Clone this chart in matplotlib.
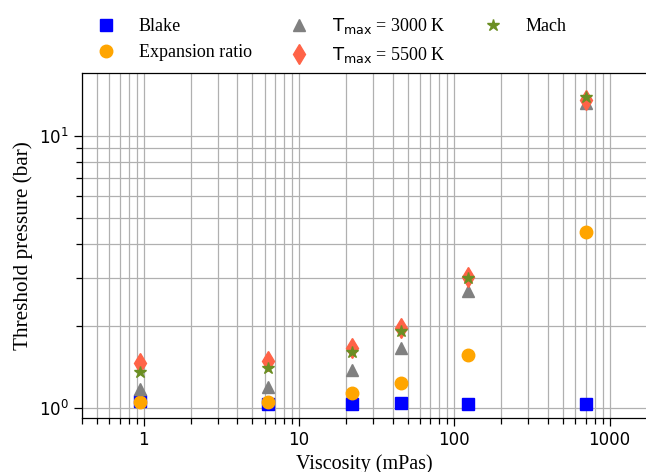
import matplotlib
matplotlib.use("Agg")
import matplotlib.pyplot as plt
from matplotlib.ticker import ScalarFormatter, NullFormatter

viscosity = [0.95, 6.3, 22, 45.5, 123, 705]
blake = [1.06, 1.04, 1.04, 1.045, 1.04, 1.04]
expansion = [1.05, 1.05, 1.135, 1.235, 1.57, 4.45]
tmax3000 = [1.175, 1.195, 1.38, 1.66, 2.7, 13.2]
tmax5500 = [1.47, 1.49, 1.66, 1.97, 3.04, 13.5]
mach = [1.36, 1.40, 1.61, 1.92, 3.0, 13.9]

series = [
    ("Blake", blake, "s", "#0000ff", 8),
    ("Expansion ratio", expansion, "o", "#ffa500", 9),
    (r"$\mathrm{T_{max}}$ = 3000 K", tmax3000, "^", "#808080", 9),
    (r"$\mathrm{T_{max}}$ = 5500 K", tmax5500, "d", "#ff6347", 10),
    ("Mach", mach, "*", "#6b8e23", 9),
]

plt.rcParams['mathtext.fontset'] = 'dejavusans'

fig = plt.figure(figsize=(6.46, 4.72), dpi=100)
ax = fig.add_axes([82/646, (472-418)/472, (647-82)/646, (418-73)/472])

for label, vals, m, c, ms in series:
    ax.plot(viscosity, vals, linestyle='none', marker=m, color=c, ms=ms,
            label=label, zorder=3)

ax.set_xscale('log')
ax.set_yscale('log')
ax.set_xlim(0.40, 1740)
ax.set_ylim(0.921, 17.0)

ax.xaxis.set_major_formatter(ScalarFormatter())
ax.xaxis.set_minor_formatter(NullFormatter())
ax.yaxis.set_minor_formatter(NullFormatter())

ax.grid(True, which='both', color='#b0b0b0', lw=0.9, zorder=0)

ax.tick_params(which='major', length=6, width=0.9, labelsize=12)
ax.tick_params(which='minor', length=4, width=0.9)

ax.spines['right'].set_visible(False)
for s in ('left', 'top', 'bottom'):
    ax.spines[s].set_linewidth(0.9)

serif = ['Liberation Serif', 'DejaVu Serif']
ax.set_xlabel("Viscosity (mPas)", fontsize=14.5, family=serif, labelpad=4)
ax.set_ylabel("Threshold pressure (bar)", fontsize=15.3, family=serif)

leg = fig.legend(loc='upper left', bbox_to_anchor=(0.111, 1.0), ncol=3,
                 frameon=False, prop={'family': serif, 'size': 13},
                 columnspacing=1.65, handletextpad=0.8, numpoints=1)

fig.savefig("out.png", dpi=100)
